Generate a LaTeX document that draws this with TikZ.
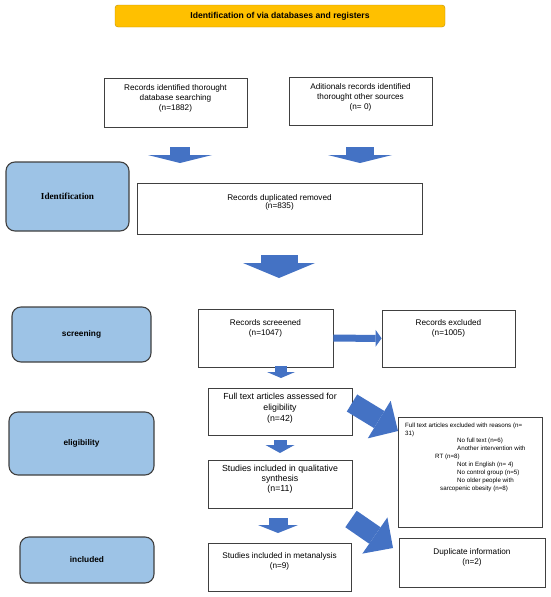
\documentclass[tikz,border=0pt]{standalone}
\usepackage{fontspec}
\setmainfont{Liberation Sans}
\newfontfamily\timesfont{Liberation Serif}
\usetikzlibrary{arrows.meta,positioning}
\definecolor{ArrowBlue}{HTML}{4472C4}
\definecolor{PhaseBlue}{HTML}{9DC3E6}
\definecolor{TitleGold}{HTML}{FFC000}
\definecolor{TitleEdge}{HTML}{BF9000}
\definecolor{EdgeGray}{HTML}{404040}

\begin{document}
\begin{tikzpicture}[x=1pt, y=-1pt,
  box/.style={draw=EdgeGray, line width=0.9pt, fill=white, inner sep=0pt},
  phase/.style={draw=EdgeGray, line width=1.1pt, fill=PhaseBlue, rounded corners=9pt, inner sep=0pt, font=\bfseries\fontsize{8.3}{9}\selectfont},
  txt/.style={align=center, inner sep=0pt, font=\fontsize{8.2}{10}\selectfont},
  fat/.style n args={3}{ArrowBlue, line width=#1, -{Triangle[length=#2, width=#3, line width=0pt]}}
]
\useasboundingbox (0,0) rectangle (550,597);

% title
\node[draw=TitleEdge, fill=TitleGold, rounded corners=3pt, minimum width=330pt, minimum height=22pt, inner sep=0pt, font=\bfseries\fontsize{8.6}{9}\selectfont] (title) at (280,16) {Identification of via databases and registers};

% phases on the left
\node[phase, minimum width=123pt, minimum height=69pt] (ident) at (67.5,196.5) {\timesfont\bfseries\fontsize{9.2}{10}\selectfont Identification};
\node[phase, minimum width=139pt, minimum height=55pt] (screen) at (81.5,334.5) {screening};
\node[phase, minimum width=145pt, minimum height=63pt] (elig) at (81.5,443.5) {eligibility};
\node[phase, minimum width=134pt, minimum height=46pt] (incl) at (87,560) {included};

% record boxes
\node[box, minimum width=143pt, minimum height=49pt] (recA) at (175.5,102.5) {};
\node[txt, below=7.3pt of recA.north] (recAT) {Records identified thorought\\database searching\\(n=1882)};
\node[box, minimum width=143pt, minimum height=48pt] (recB) at (360.5,101) {};
\node[txt, below=6.7pt of recB.north] (recBT) {Aditionals records identified\\thorought other sources\\(n= 0)};
\node[box, minimum width=285pt, minimum height=51pt] (dup) at (279.5,208.5) {};
\node[txt, font=\fontsize{8.2}{8.8}\selectfont, below=11.5pt of dup.north] (dupT) {Records duplicated removed\\(n=835)};
\node[box, minimum width=135pt, minimum height=58pt] (screened) at (265.5,338) {};
\node[txt, below=11pt of screened.north] (screenedT) {Records screeened\\(n=1047)};
\node[box, minimum width=133pt, minimum height=57pt] (excl) at (448.5,338.5) {};
\node[txt, below=10pt of excl.north] (exclT) {Records excluded\\(n=1005)};
\node[box, minimum width=144pt, minimum height=47pt] (full) at (280,411.5) {};
\node[txt, font=\fontsize{8.8}{11}\selectfont, below=5.8pt of full.north] (fullT) {Full text articles assessed for\\eligibility\\(n=42)};
\node[box, minimum width=144pt, minimum height=48pt] (qual) at (280,484) {};
\node[txt, font=\fontsize{8.8}{10}\selectfont, below=5.8pt of qual.north] (qualT) {Studies included in qualitative\\synthesis\\(n=11)};
\node[box, minimum width=144pt, minimum height=110pt] (reasons) at (470,472) {};
\node[txt, align=left, anchor=north west, font=\fontsize{6.2}{7.9}\selectfont] (reasonsT) at (405,422.5) {Full text articles excluded with reasons (n=\\31)\\\hspace*{52pt}No full text (n=6)\\\hspace*{52pt}Another intervention with\\\hspace*{30pt}RT (n=8)\\\hspace*{52pt}Not in English (n= 4)\\\hspace*{52pt}No control group (n=5)\\\hspace*{52pt}No older people with\\\hspace*{35pt}sarcopenic obesity (n=8)};
\node[box, minimum width=143pt, minimum height=48pt] (meta) at (279.5,567) {};
\node[txt, below=10pt of meta.north] (metaT) {Studies included in metanalysis\\(n=9)};
\node[box, minimum width=146pt, minimum height=49pt] (dupinfo) at (472,562.5) {};
\node[txt, below=11pt of dupinfo.north] (dupinfoT) {Duplicate information\\(n=2)};

% block arrows
\coordinate (a1s) at (180,147); \coordinate (a1e) at (180,163);
\coordinate (a2s) at (360,147); \coordinate (a2e) at (360,163);
\coordinate (a3s) at (279,255); \coordinate (a3e) at (279,278);
\coordinate (a4s) at (281,366); \coordinate (a4e) at (281,378);
\coordinate (a5s) at (280,440); \coordinate (a5e) at (280,453);
\coordinate (a6s) at (278,518); \coordinate (a6e) at (278,533);
\coordinate (d1s) at (352,403); \coordinate (d1e) at (398,431);
\coordinate (d2s) at (351,519); \coordinate (d2e) at (393,548);
\draw[fat={20pt}{8pt}{64pt}] (a1s) -- (a1e);
\draw[fat={28pt}{8pt}{64pt}] (a2s) -- (a2e);
\draw[fat={37pt}{15pt}{72pt}] (a3s) -- (a3e);
\draw[fat={12pt}{6pt}{28pt}] (a4s) -- (a4e);
\draw[fat={13pt}{8pt}{29pt}] (a5s) -- (a5e);
\draw[fat={19pt}{8pt}{40pt}] (a6s) -- (a6e);
\draw[fat={7pt}{6pt}{17pt}] (screened) -- (excl);
\draw[fat={20pt}{22pt}{44pt}] (d1s) -- (d1e);
\draw[fat={20pt}{22pt}{44pt}] (d2s) -- (d2e);
\end{tikzpicture}
\end{document}
